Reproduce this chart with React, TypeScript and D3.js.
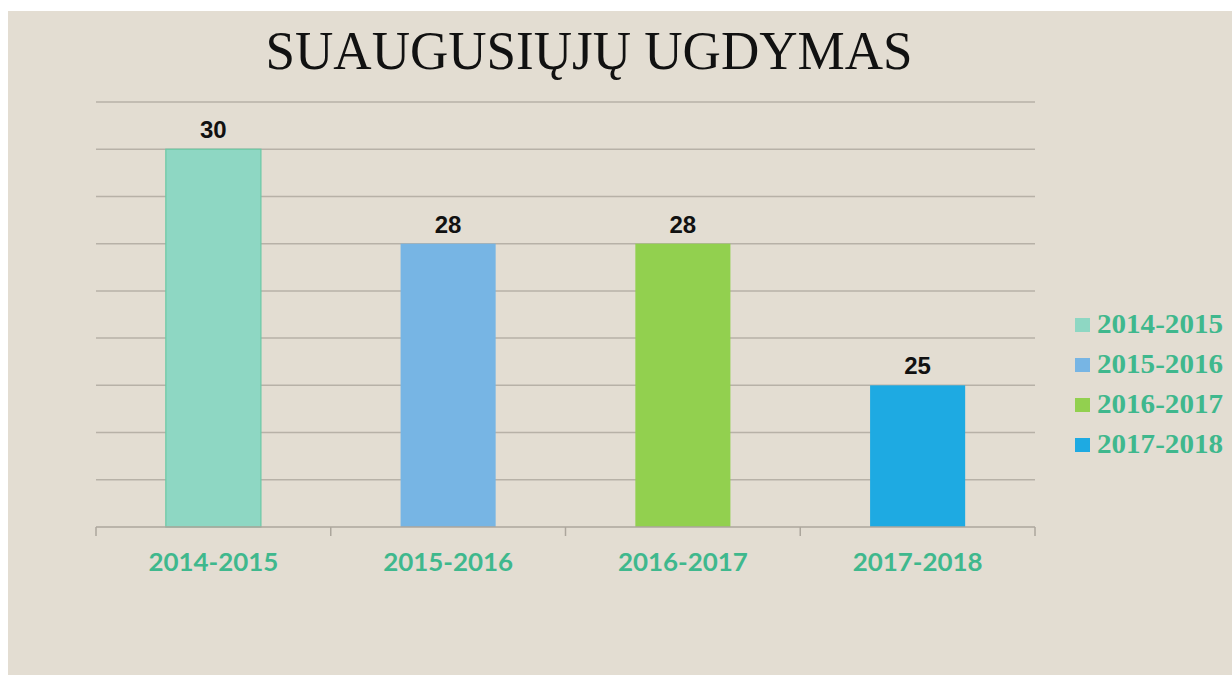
import React from "react";
import * as d3 from "d3";

const categories = ["2014-2015", "2015-2016", "2016-2017", "2017-2018"];
const values = [30, 28, 28, 25];
const barColors = ["#8ed7c3", "#77b5e4", "#92d04f", "#1eaae2"];
const barStrokes = ["#6bc9a5", "none", "none", "none"];
const yDomain: [number, number] = [22, 31];
const yTicks = [22, 23, 24, 25, 26, 27, 28, 29, 30, 31];
const title = "SUAUGUSIŲJŲ UGDYMAS";

const W = 1232;
const H = 675;
const plot = { left: 96, right: 1035, top: 102, bottom: 527 };
const green = "#3fb88d";

export default function App() {
  const x = d3.scaleBand<string>().domain(categories).range([plot.left, plot.right]).padding(0);
  const y = d3.scaleLinear().domain(yDomain).range([plot.bottom, plot.top]);
  const barW = x.bandwidth() * 0.405;
  const bounds = [...categories.map((c) => x(c) as number), plot.right];

  return (
    <svg width={W} height={H} style={{ position: "absolute", left: 0, top: 0 }}>
      <rect x={0} y={0} width={W} height={H} fill="#ffffff" />
      <rect x={8} y={11} width={W - 8} height={H - 11} fill="#e3ddd2" />
      <text
        x={589}
        y={69}
        textAnchor="middle"
        fontFamily="'Liberation Serif', serif"
        fontSize={54}
        textLength={647}
        lengthAdjust="spacingAndGlyphs"
        fill="#111"
      >
        {title}
      </text>
      {yTicks.slice(1).map((t) => (
        <line key={t} x1={plot.left} x2={plot.right} y1={y(t)} y2={y(t)} stroke="#b7b1a7" strokeWidth={1.5} />
      ))}
      {categories.map((c, i) => {
        const cx = (x(c) as number) + x.bandwidth() / 2;
        return (
          <g key={c}>
            <rect
              x={cx - barW / 2}
              y={y(values[i])}
              width={barW}
              height={y(yDomain[0]) - y(values[i])}
              fill={barColors[i]}
              stroke={barStrokes[i]}
              strokeWidth={1.2}
            />
            <text
              x={cx}
              y={y(values[i]) - 11}
              textAnchor="middle"
              fontFamily="'Liberation Sans', Arial, sans-serif"
              fontWeight="bold"
              fontSize={24}
              fill="#111"
            >
              {values[i]}
            </text>
            <text
              x={cx}
              y={571}
              textAnchor="middle"
              fontFamily="Lato, 'Noto Sans', sans-serif"
              fontWeight="bold"
              fontSize={25}
              textLength={130}
              lengthAdjust="spacingAndGlyphs"
              fill={green}
            >
              {c}
            </text>
          </g>
        );
      })}
      <line x1={plot.left} x2={plot.right} y1={plot.bottom} y2={plot.bottom} stroke="#aca69c" strokeWidth={1.5} />
      {bounds.map((b, i) => (
        <line key={i} x1={b} x2={b} y1={plot.bottom} y2={plot.bottom + 9} stroke="#aca69c" strokeWidth={1.5} />
      ))}
      {categories.map((c, i) => (
        <g key={"lg" + c} transform={`translate(1075, ${333 + i * 40})`}>
          <rect x={0} y={-15} width={15} height={14} fill={barColors[i]} />
          <text
            x={22}
            y={0}
            fontFamily="'Liberation Serif', serif"
            fontWeight="bold"
            fontSize={27}
            textLength={126}
            lengthAdjust="spacingAndGlyphs"
            fill={green}
          >
            {c}
          </text>
        </g>
      ))}
    </svg>
  );
}
